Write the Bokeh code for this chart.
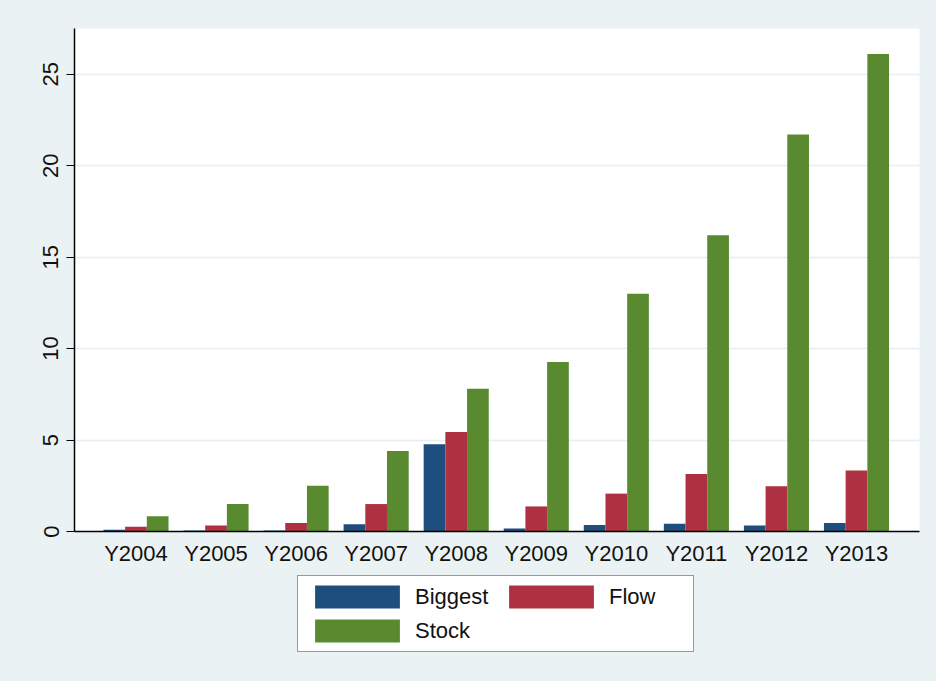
import numpy as np
from bokeh.plotting import figure
from bokeh.layouts import column
from bokeh.models import ColumnDataSource, Legend, LegendItem, FixedTicker, Range1d
from bokeh.embed import file_html
from bokeh.resources import INLINE

# ---- data ----
years = ["Y2004", "Y2005", "Y2006", "Y2007", "Y2008",
         "Y2009", "Y2010", "Y2011", "Y2012", "Y2013"]
biggest = [0.10, 0.05, 0.05, 0.40, 4.77, 0.16, 0.35, 0.42, 0.33, 0.46]
flow = [0.26, 0.33, 0.46, 1.50, 5.44, 1.37, 2.07, 3.15, 2.47, 3.33]
stock = [0.84, 1.50, 2.50, 4.40, 7.80, 9.27, 13.00, 16.20, 21.70, 26.10]
y_ticks = [0, 5, 10, 15, 20, 25]
series_names = ["Biggest", "Flow", "Stock"]
series_colors = ["#1d4e7e", "#ad3140", "#5a8a30"]

BG = "#eaf2f3"
FONT = "Liberation Sans"
FS = "22px"

idx = np.arange(len(years))
bw = 0.271
src = ColumnDataSource(dict(
    xb=idx - bw, xf=idx, xs=idx + bw,
    biggest=biggest, flow=flow, stock=stock,
))


def add_bars(fig):
    rs = []
    for xcol, ycol, col in zip(["xb", "xf", "xs"], ["biggest", "flow", "stock"], series_colors):
        rs.append(fig.vbar(x=xcol, top=ycol, width=bw, source=src,
                           fill_color=col, line_color=None))
    return rs


# ---- main chart ----
p = figure(width=936, height=570, output_backend="svg", toolbar_location=None,
           x_range=Range1d(-0.768, 9.787), y_range=Range1d(0, 27.5),
           min_border_left=74, min_border_right=17, min_border_top=28,
           min_border_bottom=39)
p.background_fill_color = "white"
p.border_fill_color = BG
p.outline_line_color = None
add_bars(p)

p.xaxis.ticker = FixedTicker(ticks=list(idx))
p.xaxis.major_label_overrides = {int(i): y for i, y in zip(idx, years)}
p.xaxis.major_tick_out = 0
p.xaxis.major_tick_in = 0
p.xaxis.minor_tick_line_color = None
p.xaxis.major_label_standoff = 9
p.xaxis.axis_line_color = "black"
p.xaxis.axis_line_width = 1.5

p.yaxis.ticker = FixedTicker(ticks=y_ticks)
p.yaxis.major_tick_out = 8
p.yaxis.major_tick_in = 0
p.yaxis.minor_tick_line_color = None
p.yaxis.major_label_orientation = "vertical"
p.yaxis.major_label_standoff = 8
p.yaxis.axis_line_color = "black"
p.yaxis.axis_line_width = 1.5
p.yaxis.major_tick_line_color = "black"

for ax in (p.xaxis, p.yaxis):
    ax.major_label_text_font = FONT
    ax.major_label_text_font_size = FS
    ax.major_label_text_color = "#111111"

p.xgrid.grid_line_color = None
p.ygrid.grid_line_color = "#e6eeef"
p.ygrid.grid_line_width = 1.5

# ---- legend strip (bars kept outside its visible range) ----
q = figure(width=936, height=111, output_backend="svg", toolbar_location=None,
           x_range=Range1d(-0.768, 9.787), y_range=Range1d(1000, 1001),
           x_axis_location=None, y_axis_location=None,
           min_border_left=0, min_border_right=0, min_border_top=0,
           min_border_bottom=0)
q.background_fill_color = BG
q.border_fill_color = BG
q.outline_line_color = None
q.grid.grid_line_color = None
lr = add_bars(q)

legend = Legend(items=[LegendItem(label=n, renderers=[r]) for n, r in zip(series_names, lr)],
                location=(223, 29), orientation="horizontal", ncols=2)
legend.glyph_width = 106
legend.glyph_height = 29
legend.label_height = 29
legend.label_standoff = 5
legend.label_width = 78
legend.spacing = 5
legend.padding = 6
legend.margin = 0
legend.label_text_font = FONT
legend.label_text_font_size = FS
legend.label_text_color = "#111111"
legend.border_line_color = "#333333"
legend.border_line_width = 1.2
legend.background_fill_color = "white"
legend.background_fill_alpha = 1.0
q.add_layout(legend, "center")

layout = column(p, q, spacing=0)
html = file_html(layout, INLINE)
html = html.replace("</head>", "<style>body{background:%s;}</style></head>" % BG, 1)
open("out.html", "w").write(html)
